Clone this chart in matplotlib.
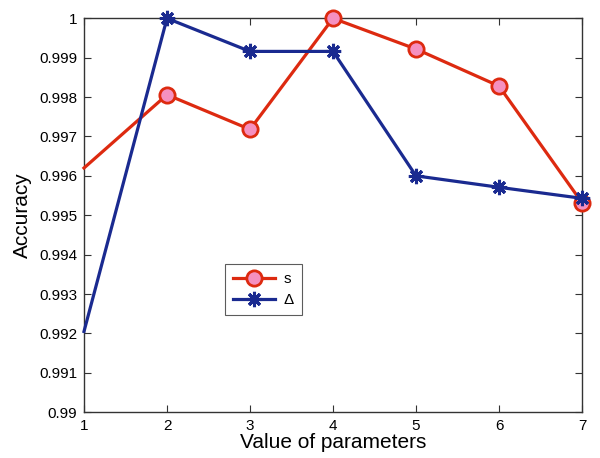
import matplotlib
matplotlib.use("Agg")
import matplotlib.pyplot as plt

x_values = [1, 2, 3, 4, 5, 6, 7]
s_values = [0.9962, 0.99806, 0.99718, 1.0, 0.99922, 0.99828, 0.99532]
delta_values = [0.99205, 1.0, 0.99916, 0.99916, 0.9960, 0.99571, 0.99543]
y_ticks = [0.99, 0.991, 0.992, 0.993, 0.994, 0.995, 0.996, 0.997, 0.998, 0.999, 1.0]
y_tick_labels = ["0.99", "0.991", "0.992", "0.993", "0.994", "0.995", "0.996",
                 "0.997", "0.998", "0.999", "1"]
x_ticks = [1, 2, 3, 4, 5, 6, 7]

plt.rcParams['font.family'] = ['Liberation Sans', 'DejaVu Sans']

fig = plt.figure(figsize=(6, 4.58), dpi=100)
ax = fig.add_axes([0.14, 0.1, 0.83, 0.86])

red = '#dd2a10'
pink = '#f590c0'
blue = '#1a2a90'

ax.plot(x_values, s_values, color=red, lw=2.3, marker='o', markersize=11,
        markerfacecolor=pink, markeredgecolor=red, markeredgewidth=2, label='s',
        clip_on=False, zorder=3, markevery=slice(1, None))
ax.plot(x_values, delta_values, color=blue, lw=2.3, marker=(8, 2, 0), markersize=11,
        markeredgewidth=2.2, markeredgecolor=blue, label='Δ', clip_on=False, zorder=3,
        markevery=slice(1, None))

ax.set_xlim(1, 7)
ax.set_ylim(0.99, 1.0)
ax.set_xticks(x_ticks)
ax.set_yticks(y_ticks)
ax.set_yticklabels(y_tick_labels)
ax.tick_params(direction='in', top=True, right=True, labelsize=11, length=5,
               width=0.8, color='#333333', pad=5)
for sp in ax.spines.values():
    sp.set_color('#333333')
    sp.set_linewidth(1.0)

ax.set_xlabel('Value of parameters', fontsize=15, labelpad=0)
ax.set_ylabel('Accuracy', fontsize=15, labelpad=5)

leg = ax.legend(loc='lower left', bbox_to_anchor=(0.283, 0.246), fontsize=11,
                frameon=True, fancybox=False, edgecolor='#333333',
                handlelength=2.7, borderpad=0.55, labelspacing=0.45,
                handletextpad=0.6, borderaxespad=0)
leg.get_frame().set_linewidth(0.8)

fig.savefig('out.png', dpi=100)
